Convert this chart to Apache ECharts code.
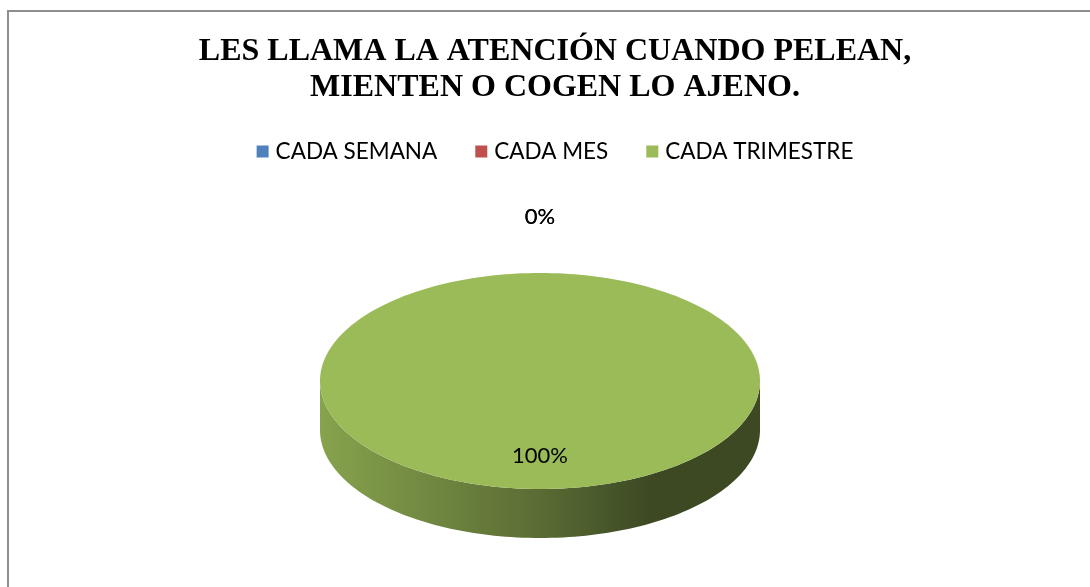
<!DOCTYPE html>
<html>
<head>
<meta charset="utf-8">
<script src="https://cdn.jsdelivr.net/npm/echarts@6/dist/echarts.min.js"></script>
<style>
  html, body { margin: 0; padding: 0; background: #fff; overflow: hidden; width: 1090px; height: 587px; }
  #chart { width: 1110px; height: 587px; }
</style>
</head>
<body>
<div id="chart"></div>
<script>
// ---- data ----
const TITLE = 'LES LLAMA LA ATENCIÓN CUANDO PELEAN,\nMIENTEN O COGEN LO AJENO.';
const CATEGORIES = ['CADA SEMANA', 'CADA MES', 'CADA TRIMESTRE'];
const VALUES = [0, 0, 100];

// ---- styles / layout ----
const COLORS = ['#4F81BD', '#C0504D', '#9BBB59'];
const PIE = { cx: 540, cy: 381, rx: 220, ry: 108, depth: 49, labelIn: 0.69, labelOut: 56 };

function shade(hex, k) {
  const n = parseInt(hex.slice(1), 16);
  const r = Math.round(((n >> 16) & 255) * k);
  const g = Math.round(((n >> 8) & 255) * k);
  const b = Math.round((n & 255) * k);
  return 'rgb(' + r + ',' + g + ',' + b + ')';
}

const TOTAL = VALUES.reduce((a, b) => a + b, 0);

function pt(theta, dy) {
  return [PIE.cx + PIE.rx * Math.sin(theta), PIE.cy - PIE.ry * Math.cos(theta) + (dy || 0)];
}

function arcPoints(a0, a1, dy) {
  const n = Math.max(2, Math.ceil((a1 - a0) / (Math.PI * 2) * 240));
  const pts = [];
  for (let k = 0; k <= n; k++) pts.push(pt(a0 + (a1 - a0) * k / n, dy));
  return pts;
}

function makeRender(i) {
  return function (params, api) {
    const v = api.value(0);
    let before = 0;
    for (let j = 0; j < i; j++) before += VALUES[j];
    const a0 = before / TOTAL * Math.PI * 2;
    const a1 = a0 + v / TOTAL * Math.PI * 2;
    const base = COLORS[i];
    const children = [];
    if (v > 0) {
      const s0 = Math.max(a0, Math.PI / 2), s1 = Math.min(a1, Math.PI * 1.5);
      if (s1 > s0) {
        const topArc = arcPoints(s0, s1, 0);
        const botArc = arcPoints(s0, s1, PIE.depth).reverse();
        children.push({
          type: 'polygon',
          z2: 1,
          shape: { points: topArc.concat(botArc) },
          style: {
            fill: new echarts.graphic.LinearGradient(PIE.cx - PIE.rx, 0, PIE.cx + PIE.rx, 0, [
              { offset: 0, color: shade(base, 0.87) },
              { offset: 0.5, color: shade(base, 0.58) },
              { offset: 0.75, color: shade(base, 0.39) },
              { offset: 1, color: shade(base, 0.39) }
            ], true),
            stroke: null
          }
        });
      }
      const full = (a1 - a0) >= Math.PI * 2 - 1e-9;
      let topPts = arcPoints(a0, a1, 0);
      if (!full) topPts = [[PIE.cx, PIE.cy]].concat(topPts);
      children.push({
        type: 'polygon',
        z2: 10,
        shape: { points: topPts },
        style: { fill: base, stroke: null }
      });
    }
    const mid = (a0 + a1) / 2;
    let lx, ly;
    if (v > 0) {
      lx = PIE.cx + PIE.labelIn * PIE.rx * Math.sin(mid);
      ly = PIE.cy - PIE.labelIn * PIE.ry * Math.cos(mid);
    } else {
      lx = PIE.cx + (PIE.rx + PIE.labelOut) * Math.sin(mid);
      ly = PIE.cy - (PIE.ry + PIE.labelOut) * Math.cos(mid);
    }
    children.push({
      type: 'text',
      z2: 20,
      x: lx, y: ly,
      style: {
        text: Math.round(v / TOTAL * 100) + '%',
        fill: '#000',
        font: '22px Lato',
        align: 'center',
        verticalAlign: 'middle'
      }
    });
    return { type: 'group', children: children };
  };
}

const chart = echarts.init(document.getElementById('chart'), null, { renderer: 'canvas' });
chart.setOption({
  animation: false,
  backgroundColor: '#fff',
  title: {
    text: TITLE,
    left: 'center',
    top: 34,
    padding: 0,
    textStyle: {
      fontFamily: '"Liberation Serif", "Times New Roman", serif',
      fontWeight: 'bold',
      fontSize: 32,
      lineHeight: 36,
      color: '#000'
    }
  },
  legend: {
    data: CATEGORIES,
    top: 135,
    left: 'center',
    icon: 'rect',
    itemWidth: 12,
    itemHeight: 12,
    itemGap: 38,
    selectedMode: false,
    textStyle: { fontFamily: 'Lato', fontSize: 22.5, color: '#000', padding: [0, 0, 0, 2] }
  },
  graphic: [{
    type: 'rect',
    silent: true,
    shape: { x: 8, y: 11, width: 1300, height: 800 },
    style: { fill: 'none', stroke: '#8e8e8e', lineWidth: 2 }
  }],
  series: CATEGORIES.map((name, i) => ({
    type: 'custom',
    name: name,
    coordinateSystem: 'none',
    itemStyle: { color: COLORS[i] },
    data: [VALUES[i]],
    renderItem: makeRender(i)
  }))
});
</script>
</body>
</html>
